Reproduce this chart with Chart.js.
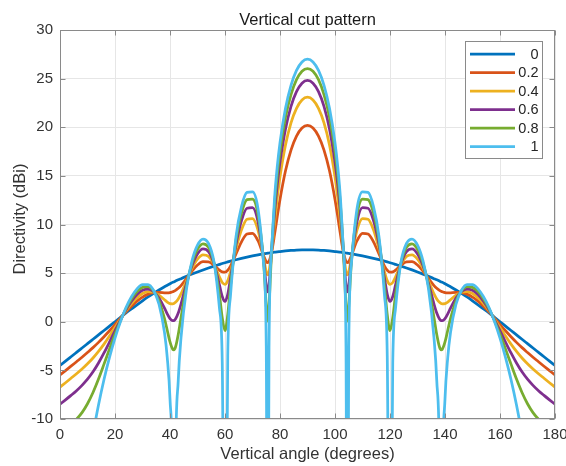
<!DOCTYPE html>
<html>
<head>
<meta charset="utf-8">
<script src="https://cdn.jsdelivr.net/npm/chart.js@4.4.1/dist/chart.umd.min.js"></script>
<style>
html,body{margin:0;padding:0;background:#ffffff;}
#wrap{width:566px;height:466px;}
</style>
</head>
<body>
<div id="wrap"><canvas id="c" width="566" height="466"></canvas></div>
<script>
// Vertical angle (degrees)
const angles = [0,2,4,6,8,10,12,14,16,18,20,22,24,26,28,30,32,34,36,38,39,40,41,41.41,42,43,44,46,48,50,52,54,56,58,59,60,61,62,64,66,68,70,72,74,75,75.52,76,77,78,79,80,82,84,86,88,90,
92,94,96,98,100,101,102,103,104,104.48,105,106,108,110,112,114,116,118,119,120,121,122,124,126,128,130,132,134,136,137,138,138.59,139,140,141,142,144,146,148,150,152,154,156,158,160,162,164,166,168,170,172,174,176,178,180];

// Directivity (dBi) per weighting value
const dir0 = [-4.5,-4.05,-3.6,-3.15,-2.7,-2.25,-1.8,-1.35,-0.9,-0.45,0,0.45,0.9,1.32,1.74,2.15,2.55,2.92,3.27,3.6,3.75,3.9,4.05,4.1,4.18,4.31,4.43,4.67,4.9,5.12,5.33,5.53,5.72,5.9,5.99,6.07,6.15,6.23,6.38,6.52,6.65,6.77,6.88,6.98,7.03,7.05,7.07,7.11,7.15,7.19,7.22,7.28,7.33,7.37,7.39,7.4,
7.39,7.37,7.33,7.28,7.22,7.19,7.15,7.11,7.07,7.05,7.03,6.98,6.88,6.77,6.65,6.52,6.38,6.23,6.15,6.07,5.99,5.9,5.72,5.53,5.33,5.12,4.9,4.67,4.43,4.31,4.18,4.1,4.05,3.9,3.75,3.6,3.27,2.92,2.55,2.15,1.74,1.32,0.9,0.45,0,-0.45,-0.9,-1.35,-1.8,-2.25,-2.7,-3.15,-3.6,-4.05,-4.5];

const dir02 = [-5.47,-5.02,-4.57,-4.11,-3.65,-3.16,-2.66,-2.12,-1.54,-0.93,-0.29,0.37,1.02,1.6,2.12,2.54,2.84,2.99,3.01,2.98,2.97,3.0,3.09,3.13,3.22,3.44,3.72,4.44,5.21,5.83,6.18,6.16,5.81,5.3,5.12,5.1,5.3,5.72,6.97,8.22,9.02,9.1,8.33,6.81,6.18,6.08,6.21,7.23,8.93,10.81,12.58,15.52,17.65,19.09,19.92,20.2,
19.92,19.09,17.65,15.52,12.58,10.81,8.93,7.23,6.21,6.08,6.18,6.81,8.33,9.1,9.02,8.22,6.97,5.72,5.3,5.1,5.12,5.3,5.81,6.16,6.18,5.83,5.21,4.44,3.72,3.44,3.22,3.13,3.09,3.0,2.97,2.98,3.01,2.99,2.84,2.54,2.12,1.6,1.02,0.37,-0.29,-0.93,-1.54,-2.12,-2.66,-3.16,-3.65,-4.11,-4.57,-5.02,-5.47];

const dir04 = [-6.72,-6.27,-5.81,-5.35,-4.86,-4.32,-3.73,-3.05,-2.3,-1.47,-0.6,0.29,1.13,1.87,2.47,2.9,3.11,3.05,2.74,2.26,2.03,1.87,1.85,1.88,2.0,2.35,2.87,4.2,5.5,6.44,6.88,6.72,5.9,4.6,4.04,3.85,4.23,5.13,7.49,9.45,10.54,10.61,9.42,6.64,5.12,4.83,5.15,7.35,10.18,12.75,14.91,18.19,20.46,21.95,22.81,23.09,
22.81,21.95,20.46,18.19,14.91,12.75,10.18,7.35,5.15,4.83,5.12,6.64,9.42,10.61,10.54,9.45,7.49,5.13,4.23,3.85,4.04,4.6,5.9,6.72,6.88,6.44,5.5,4.2,2.87,2.35,2.0,1.88,1.85,1.87,2.03,2.26,2.74,3.05,3.11,2.9,2.47,1.87,1.13,0.29,-0.6,-1.47,-2.3,-3.05,-3.73,-4.32,-4.86,-5.35,-5.81,-6.27,-6.72];

const dir06 = [-8.48,-8.03,-7.57,-7.09,-6.54,-5.91,-5.15,-4.24,-3.21,-2.09,-0.93,0.2,1.24,2.12,2.8,3.23,3.36,3.11,2.45,1.4,0.81,0.33,0.11,0.12,0.28,0.89,1.82,3.94,5.77,6.98,7.49,7.21,5.98,3.76,2.6,2.09,2.82,4.46,7.95,10.4,11.67,11.73,10.29,6.46,3.72,3.07,3.73,7.46,11.16,14.09,16.41,19.83,22.15,23.66,24.53,24.81,
24.53,23.66,22.15,19.83,16.41,14.09,11.16,7.46,3.73,3.07,3.72,6.46,10.29,11.73,11.67,10.4,7.95,4.46,2.82,2.09,2.6,3.76,5.98,7.21,7.49,6.98,5.77,3.94,1.82,0.89,0.28,0.12,0.11,0.33,0.81,1.4,2.45,3.11,3.36,3.23,2.8,2.12,1.24,0.2,-0.93,-2.09,-3.21,-4.24,-5.15,-5.91,-6.54,-7.09,-7.57,-8.03,-8.48];

const dir08 = [-11.49,-11.04,-10.57,-10.02,-9.34,-8.43,-7.27,-5.89,-4.36,-2.8,-1.29,0.11,1.35,2.35,3.1,3.54,3.6,3.18,2.14,0.32,-0.88,-2.08,-2.84,-2.89,-2.6,-1.31,0.42,3.67,6.02,7.45,8.02,7.65,6.06,2.72,0.41,-0.92,0.72,3.66,8.37,11.18,12.56,12.62,11.01,6.27,1.64,0.06,1.62,7.57,11.95,15.11,17.53,21.02,23.36,24.89,25.76,26.04,
25.76,24.89,23.36,21.02,17.53,15.11,11.95,7.57,1.62,0.06,1.64,6.27,11.01,12.62,12.56,11.18,8.37,3.66,0.72,-0.92,0.41,2.72,6.06,7.65,8.02,7.45,6.02,3.67,0.42,-1.31,-2.6,-2.89,-2.84,-2.08,-0.88,0.32,2.14,3.18,3.6,3.54,3.1,2.35,1.35,0.11,-1.29,-2.8,-4.36,-5.89,-7.27,-8.43,-9.34,-10.02,-10.57,-11.04,-11.49];

const dir1 = [-50,-45,-32.3,-24.85,-19.4,-15.15,-11.59,-8.57,-5.94,-3.66,-1.68,0.02,1.46,2.57,3.38,3.83,3.83,3.24,1.8,-1.12,-3.68,-7.93,-18.3,-40,-14.82,-6.03,-1.66,3.38,6.26,7.88,8.5,8.05,6.14,1.35,-4.18,-40,-3.52,2.68,8.75,11.84,13.3,13.36,11.63,6.07,-2.5,-40,-2.66,7.68,12.62,15.94,18.42,21.95,24.31,25.84,26.71,27.0,
26.71,25.84,24.31,21.95,18.42,15.94,12.62,7.68,-2.66,-40,-2.5,6.07,11.63,13.36,13.3,11.84,8.75,2.68,-3.52,-40,-4.18,1.35,6.14,8.05,8.5,7.88,6.26,3.38,-1.66,-6.03,-14.82,-40,-18.3,-7.93,-3.68,-1.12,1.8,3.24,3.83,3.83,3.38,2.57,1.46,0.02,-1.68,-3.66,-5.94,-8.57,-11.59,-15.15,-19.4,-24.85,-32.3,-45,-50];

const seriesLabels = ['0','0.2','0.4','0.6','0.8','1'];
const seriesColors = ['#0072BD','#D95319','#EDB120','#7E2F8E','#77AC30','#4DBEEE'];
const xTicks = [0,20,40,60,80,100,120,140,160,180];
const yTicks = [-10,-5,0,5,10,15,20,25,30];
const titleText = 'Vertical cut pattern';
const xTitle = 'Vertical angle (degrees)';
const yTitle = 'Directivity (dBi)';

const FONT = "'Liberation Sans', Arial, Helvetica, sans-serif";
const seriesValues = [dir0, dir02, dir04, dir06, dir08, dir1];

const datasets = seriesValues.map((vals, i) => ({
  label: seriesLabels[i],
  data: angles.map((a, k) => ({x: a, y: vals[k]})),
  borderColor: seriesColors[i],
  backgroundColor: seriesColors[i],
  borderWidth: 2.75,
  pointRadius: 0,
  pointHoverRadius: 0,
  cubicInterpolationMode: 'monotone',
  fill: false,
  clip: 0,
  order: seriesValues.length - 1 - i
}));

const framePlugin = {
  id: 'frame',
  afterDraw(chart) {
    const ctx = chart.ctx;
    const a = chart.chartArea;
    const xs = chart.scales.x, ys = chart.scales.y;
    ctx.save();
    // axes box
    const L = Math.round(a.left) + 0.5, R = Math.round(a.right) - 0.5;
    const T = Math.round(a.top) + 0.5, B = Math.round(a.bottom) - 0.5;
    ctx.strokeStyle = '#8a8a8a';
    ctx.lineWidth = 1;
    ctx.strokeRect(L, T, R - L, B - T);
    // inner tick marks on all four sides
    const tl = 5;
    ctx.beginPath();
    xTicks.forEach(v => {
      const px = Math.round(xs.getPixelForValue(v)) + 0.5;
      ctx.moveTo(px, B); ctx.lineTo(px, B - tl);
      ctx.moveTo(px, T); ctx.lineTo(px, T + tl);
    });
    yTicks.forEach(v => {
      const py = Math.round(ys.getPixelForValue(v)) + 0.5;
      ctx.moveTo(L, py); ctx.lineTo(L + tl, py);
      ctx.moveTo(R, py); ctx.lineTo(R - tl, py);
    });
    ctx.stroke();

    // title
    ctx.fillStyle = '#1a1a1a';
    ctx.font = '16.5px ' + FONT;
    ctx.textAlign = 'center';
    ctx.textBaseline = 'alphabetic';
    ctx.fillText(titleText, (a.left + a.right) / 2, 25);

    // x axis title
    ctx.fillStyle = '#333333';
    ctx.font = '16.5px ' + FONT;
    ctx.fillText(xTitle, (a.left + a.right) / 2, 459);

    // y axis title
    ctx.save();
    ctx.translate(25, 219);
    ctx.rotate(-Math.PI / 2);
    ctx.fillText(yTitle, 0, 0);
    ctx.restore();

    // legend
    const bx = 465.5, by = 41.5, bw = 77, bh = 117;
    ctx.fillStyle = '#ffffff';
    ctx.fillRect(bx, by, bw, bh);
    ctx.strokeStyle = '#8a8a8a';
    ctx.lineWidth = 1;
    ctx.strokeRect(bx, by, bw, bh);
    ctx.font = '14.5px ' + FONT;
    ctx.textAlign = 'right';
    ctx.textBaseline = 'middle';
    chart.data.datasets.forEach((ds, i) => {
      const y = 54 + i * 18.5;
      ctx.strokeStyle = ds.borderColor;
      ctx.lineWidth = 2.75;
      ctx.beginPath();
      ctx.moveTo(470, y);
      ctx.lineTo(515, y);
      ctx.stroke();
      ctx.fillStyle = '#262626';
      ctx.fillText(ds.label, 538.5, y + 0.5);
    });
    ctx.restore();
  }
};

new Chart(document.getElementById('c'), {
  type: 'line',
  data: { datasets },
  options: {
    responsive: false,
    animation: false,
    devicePixelRatio: 1,
    events: [],
    layout: { padding: { left: 0, right: 11, top: 30, bottom: 0 } },
    plugins: {
      legend: { display: false },
      title: { display: false },
      tooltip: { enabled: false }
    },
    scales: {
      x: {
        type: 'linear',
        min: 0, max: 180,
        afterBuildTicks: s => { s.ticks = xTicks.map(v => ({ value: v })); },
        afterFit: s => { s.height = 47; s.paddingLeft = 0; s.paddingRight = 0; },
        grid: { color: '#e6e6e6', lineWidth: 1, drawTicks: false },
        border: { display: false },
        ticks: { padding: 7, color: '#333333', maxRotation: 0, autoSkip: false,
                 font: { family: FONT, size: 15 } }
      },
      y: {
        type: 'linear',
        min: -10, max: 30,
        afterBuildTicks: s => { s.ticks = yTicks.map(v => ({ value: v })); },
        afterFit: s => { s.width = 60; s.paddingTop = 0; s.paddingBottom = 0; },
        grid: { color: '#e6e6e6', lineWidth: 1, drawTicks: false },
        border: { display: false },
        ticks: { padding: 7, color: '#333333', autoSkip: false,
                 font: { family: FONT, size: 15 } }
      }
    }
  },
  plugins: [framePlugin]
});
</script>
</body>
</html>
